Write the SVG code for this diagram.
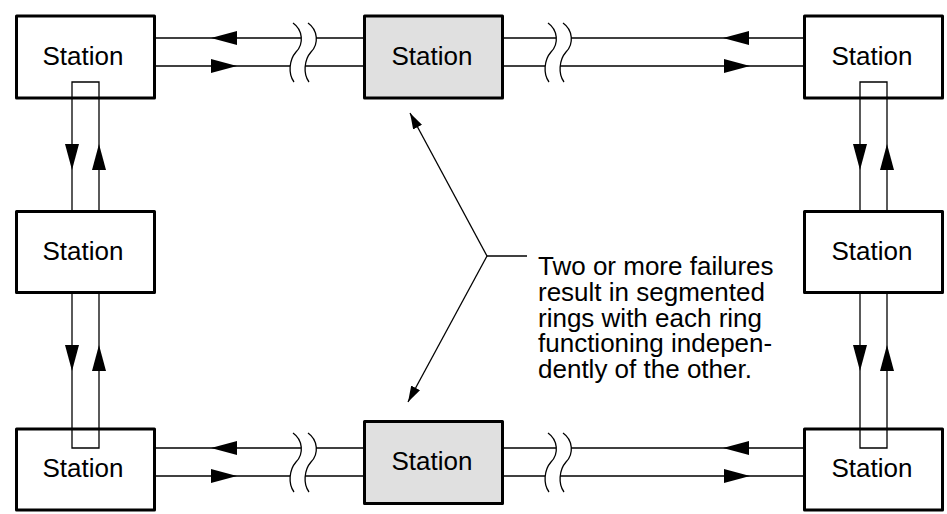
<svg xmlns="http://www.w3.org/2000/svg" width="947" height="514" viewBox="0 0 947 514">
<style>
.box{fill:#fff;stroke:#000;stroke-width:3;stroke-linejoin:round}
.gray{fill:#e0e0e0}
.lbl{font-family:"Liberation Sans",Arial,sans-serif;font-size:26px;fill:#000;text-anchor:middle}
.note{font-family:"Liberation Sans",Arial,sans-serif;font-size:26px;fill:#000}
.ln{stroke:#000;stroke-width:1.3;fill:none}
.ah{fill:#000;stroke:none}
</style>
<defs>
<path id="arR" d="M0,-7 L26,0 L0,7 Z"/>
<path id="arL" d="M0,-7 L-26,0 L0,7 Z"/>
<path id="arD" d="M-7,0 L0,26 L7,0 Z"/>
<path id="arU" d="M-7,0 L0,-26 L7,0 Z"/>
<path id="brk" d="M0,0 C10,7 11,21 3,29 C-4,37 -5,51 1,59"/>
<marker id="pt" viewBox="0 0 16 10" refX="16" refY="5" markerWidth="16" markerHeight="10" markerUnits="userSpaceOnUse" orient="auto">
<path d="M0,0 L16,5 L0,10 Z" fill="#000"/>
</marker>
</defs>

<g id="connectors">
<!-- top row -->
<line class="ln" x1="155" y1="38" x2="301" y2="38"/>
<line class="ln" x1="155" y1="66" x2="290" y2="66"/>
<line class="ln" x1="316" y1="38" x2="364" y2="38"/>
<line class="ln" x1="305" y1="66" x2="364" y2="66"/>
<line class="ln" x1="503" y1="38" x2="556" y2="38"/>
<line class="ln" x1="503" y1="66" x2="545" y2="66"/>
<line class="ln" x1="571" y1="38" x2="804" y2="38"/>
<line class="ln" x1="560" y1="66" x2="804" y2="66"/>
<use class="ln" href="#brk" x="293" y="23"/>
<use class="ln" href="#brk" x="308" y="23"/>
<use class="ln" href="#brk" x="548" y="23"/>
<use class="ln" href="#brk" x="563" y="23"/>
<use class="ah" href="#arL" x="237" y="38"/>
<use class="ah" href="#arR" x="211" y="66"/>
<use class="ah" href="#arL" x="749" y="38"/>
<use class="ah" href="#arR" x="724" y="66"/>
<!-- bottom row -->
<line class="ln" x1="155" y1="448" x2="301" y2="448"/>
<line class="ln" x1="155" y1="476" x2="290" y2="476"/>
<line class="ln" x1="316" y1="448" x2="364" y2="448"/>
<line class="ln" x1="305" y1="476" x2="364" y2="476"/>
<line class="ln" x1="503" y1="448" x2="556" y2="448"/>
<line class="ln" x1="503" y1="476" x2="545" y2="476"/>
<line class="ln" x1="571" y1="448" x2="804" y2="448"/>
<line class="ln" x1="560" y1="476" x2="804" y2="476"/>
<use class="ln" href="#brk" x="293" y="433"/>
<use class="ln" href="#brk" x="308" y="433"/>
<use class="ln" href="#brk" x="548" y="433"/>
<use class="ln" href="#brk" x="563" y="433"/>
<use class="ah" href="#arL" x="237" y="448"/>
<use class="ah" href="#arR" x="211" y="476"/>
<use class="ah" href="#arL" x="749" y="448"/>
<use class="ah" href="#arR" x="724" y="476"/>
<!-- left column -->
<line class="ln" x1="72" y1="82" x2="72" y2="211"/>
<line class="ln" x1="99" y1="82" x2="99" y2="211"/>
<line class="ln" x1="72" y1="294" x2="72" y2="448"/>
<line class="ln" x1="99" y1="294" x2="99" y2="448"/>
<use class="ah" href="#arD" x="72" y="144"/>
<use class="ah" href="#arU" x="99" y="170"/>
<use class="ah" href="#arD" x="72" y="345"/>
<use class="ah" href="#arU" x="99" y="371"/>
<!-- right column -->
<line class="ln" x1="860" y1="82" x2="860" y2="211"/>
<line class="ln" x1="887" y1="82" x2="887" y2="211"/>
<line class="ln" x1="860" y1="294" x2="860" y2="448"/>
<line class="ln" x1="887" y1="294" x2="887" y2="448"/>
<use class="ah" href="#arD" x="860" y="144"/>
<use class="ah" href="#arU" x="887" y="170"/>
<use class="ah" href="#arD" x="860" y="345"/>
<use class="ah" href="#arU" x="887" y="371"/>
<!-- annotation leaders -->
<line class="ln" x1="487" y1="256" x2="527" y2="256"/>
<line class="ln" x1="487" y1="256" x2="410" y2="113" marker-end="url(#pt)"/>
<line class="ln" x1="487" y1="256" x2="408" y2="402" marker-end="url(#pt)"/>
</g>

<g id="station-top-left">
<rect class="box" x="16.5" y="16" width="138" height="82"/>
<text class="lbl" x="83" y="65">Station</text>
<polyline class="ln" points="72,98 72,82 99,82 99,98"/>
</g>
<g id="station-top-middle">
<rect class="box gray" x="364.5" y="16" width="138" height="82"/>
<text class="lbl" x="432" y="65">Station</text>
</g>
<g id="station-top-right">
<rect class="box" x="804.5" y="16" width="138" height="82"/>
<text class="lbl" x="872" y="65">Station</text>
<polyline class="ln" points="860,98 860,82 887,82 887,98"/>
</g>
<g id="station-mid-left">
<rect class="box" x="16.5" y="211.5" width="138" height="81"/>
<text class="lbl" x="83" y="260">Station</text>
</g>
<g id="station-mid-right">
<rect class="box" x="804.5" y="211.5" width="138" height="81"/>
<text class="lbl" x="872" y="260">Station</text>
</g>
<g id="station-bottom-left">
<rect class="box" x="16.5" y="429" width="138" height="81"/>
<text class="lbl" x="83" y="477">Station</text>
<polyline class="ln" points="72,430 72,448 99,448 99,430"/>
</g>
<g id="station-bottom-middle">
<rect class="box gray" x="364.5" y="421.5" width="138" height="82"/>
<text class="lbl" x="432" y="470">Station</text>
</g>
<g id="station-bottom-right">
<rect class="box" x="804.5" y="429" width="138" height="81"/>
<text class="lbl" x="872" y="477">Station</text>
<polyline class="ln" points="860,430 860,448 887,448 887,430"/>
</g>

<g id="note">
<text class="note"><tspan x="538" y="275">Two or more failures</tspan><tspan x="538" y="301">result in segmented</tspan><tspan x="538" y="327">rings with each ring</tspan><tspan x="538" y="352">functioning indepen-</tspan><tspan x="538" y="378">dently of the other.</tspan></text>
</g>
</svg>
